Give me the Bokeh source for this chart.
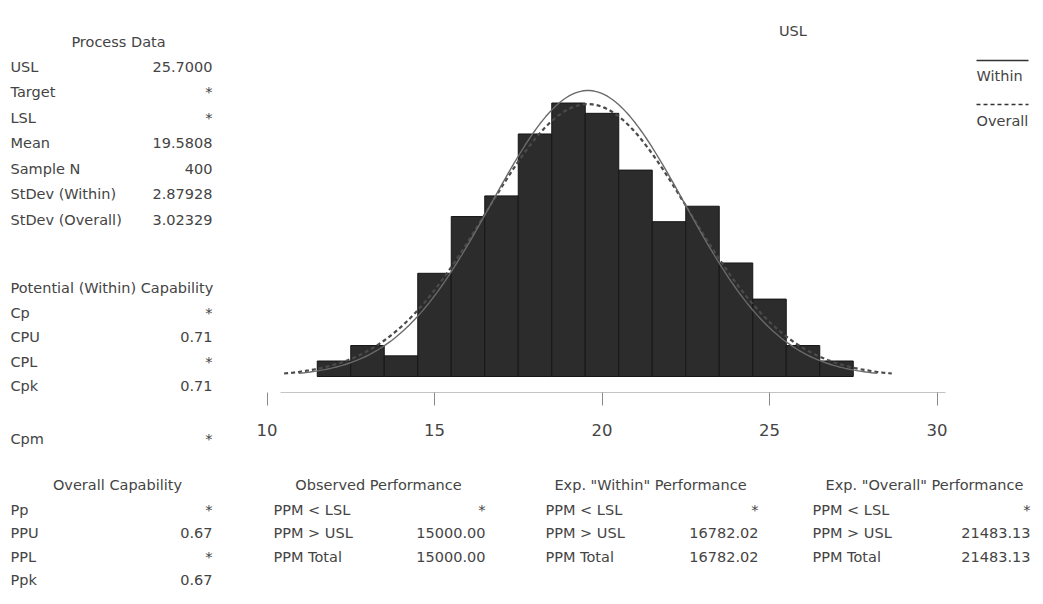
import numpy as np
from bokeh.plotting import figure
from bokeh.models import Range1d, FixedTicker, Label, Arrow, ColumnDataSource
from bokeh.layouts import row, column
from bokeh.embed import file_html
from bokeh.resources import INLINE
from bokeh.core.properties import value

# ---------------- data ----------------
usl = 25.7
mean = 19.5808
sample_n = 400
sd_within = 2.87928
sd_overall = 3.02329
bin_width = 1.0
bin_centers = [12, 13, 14, 15, 16, 17, 18, 19, 20, 21, 22, 23, 24, 25, 26, 27]
counts = [3, 6, 4, 20, 31, 35, 47, 53, 51, 40, 30, 33, 22, 15, 6, 3]
x_ticks = [10, 15, 20, 25, 30]

process_labels = ["USL", "Target", "LSL", "Mean", "Sample N", "StDev (Within)", "StDev (Overall)"]
process_values = ["25.7000", "*", "*", "19.5808", "400", "2.87928", "3.02329"]
within_cap_labels = ["Cp", "CPU", "CPL", "Cpk"]
within_cap_values = ["*", "0.71", "*", "0.71"]
cpm_label, cpm_value = "Cpm", "*"
overall_cap_labels = ["Pp", "PPU", "PPL", "Ppk"]
overall_cap_values = ["*", "0.67", "*", "0.67"]

perf_titles = ["Observed Performance", 'Exp. "Within" Performance', 'Exp. "Overall" Performance']
perf_labels = ["PPM < LSL", "PPM > USL", "PPM Total"]
perf_observed = ["*", "15000.00", "15000.00"]
perf_within = ["*", "16782.02", "16782.02"]
perf_overall = ["*", "21483.13", "21483.13"]

# ---------------- style ----------------
FONT = "DejaVu Sans"
FS = "14.5px"
TXT = "#444444"


def text_fig(w, h):
    f = figure(width=w, height=h, x_range=Range1d(0, w), y_range=Range1d(h, 0),
               output_backend="svg", toolbar_location=None,
               x_axis_location=None, y_axis_location=None,
               min_border=0, min_border_left=0, min_border_right=0,
               min_border_top=0, min_border_bottom=0)
    f.grid.visible = False
    f.outline_line_color = None
    f.background_fill_color = "white"
    f.border_fill_color = "white"
    return f


def put(f, xs, ys, texts, align):
    src = ColumnDataSource(dict(x=list(xs), y=list(ys), t=list(texts)))
    f.text(x="x", y="y", text="t", source=src, text_align=align, text_baseline="middle",
           text_font=value(FONT), text_font_size=value(FS), text_color=TXT)


# ---------------- left panel ----------------
LW, LH = 240, 600
left = text_fig(LW, LH)
lab_x, val_x = 10, 212
put(left, [118], [41], ["Process Data"], "center")
ys = [66 + 25.5 * i for i in range(len(process_labels))]
put(left, [lab_x] * len(ys), ys, process_labels, "left")
put(left, [val_x] * len(ys), ys, process_values, "right")

put(left, [lab_x], [287], ["Potential (Within) Capability"], "left")
ys = [312 + 24.5 * i for i in range(len(within_cap_labels))]
put(left, [lab_x] * len(ys), ys, within_cap_labels, "left")
put(left, [val_x] * len(ys), ys, within_cap_values, "right")
put(left, [lab_x], [438], [cpm_label], "left")
put(left, [val_x], [438], [cpm_value], "right")

ROW0, ROWSTEP = 509, 23.5
put(left, [117], [484], ["Overall Capability"], "center")
ys = [ROW0 + ROWSTEP * i for i in range(len(overall_cap_labels))]
put(left, [lab_x] * len(ys), ys, overall_cap_labels, "left")
put(left, [val_x] * len(ys), ys, overall_cap_values, "right")

# ---------------- histogram panel ----------------
HX = 240                      # left edge of the histogram panel on the page
HW, HH = 800, 445
BOTTOM = 53
FH = HH - BOTTOM
px_per_unit = 33.5
px_per_count = 5.16
x20_px = 601.5 - HX           # frame position of x=20
base_px = 376                 # frame position of count 0 (from top)
x_start = 20 - x20_px / px_per_unit
x_end = x_start + HW / px_per_unit
y_start = -(FH - base_px) / px_per_count
y_end = base_px / px_per_count

hist = figure(width=HW, height=HH, x_range=Range1d(x_start, x_end), y_range=Range1d(y_start, y_end),
              output_backend="svg", toolbar_location=None, y_axis_location=None,
              min_border=0, min_border_left=0, min_border_right=0, min_border_top=0,
              min_border_bottom=BOTTOM)
hist.grid.visible = False
hist.outline_line_color = None

centers = np.array(bin_centers, dtype=float)
hist.quad(left=centers - bin_width / 2, right=centers + bin_width / 2, bottom=0, top=counts,
          fill_color="#2c2c2c", line_color="#161616", line_width=1)

scale = sample_n * bin_width
xw = np.linspace(mean - 3 * sd_within, mean + 3 * sd_within, 200)
yw = scale / (sd_within * np.sqrt(2 * np.pi)) * np.exp(-0.5 * ((xw - mean) / sd_within) ** 2)
xo = np.linspace(mean - 3 * sd_overall, mean + 3 * sd_overall, 200)
yo = scale / (sd_overall * np.sqrt(2 * np.pi)) * np.exp(-0.5 * ((xo - mean) / sd_overall) ** 2)
hist.line(xo, yo, line_color="#4a4a4a", line_width=2.2, line_dash="4 3")
hist.line(xw, yw, line_color="#6a6a6a", line_width=1.4)

ax = hist.xaxis[0]
ax.ticker = FixedTicker(ticks=x_ticks)
ax.bounds = (10.4, 30.25)
ax.axis_line_color = "#c4c4c4"
ax.axis_line_width = 1
ax.major_tick_line_color = "#8a8a8a"
ax.major_tick_in = 0
ax.major_tick_out = 13
ax.minor_tick_line_color = None
ax.major_label_standoff = 18
ax.major_label_text_font = FONT
ax.major_label_text_font_size = "16.5px"
ax.major_label_text_color = TXT

# USL label
hist.add_layout(Label(x=usl, y=FH - 30, x_units="data", y_units="screen", text="USL",
                      text_align="center", text_baseline="middle", text_font=FONT,
                      text_font_size=FS, text_color=TXT))
# legend (line above text)
lx0, lx1 = 976 - HX, 1028 - HX
hist.add_layout(Arrow(end=None, x_start=lx0, y_start=FH - 60, x_end=lx1, y_end=FH - 60,
                      start_units="screen", end_units="screen", line_color="#333333", line_width=1.3))
hist.add_layout(Label(x=lx0, y=FH - 75, x_units="screen", y_units="screen", text="Within",
                      text_align="left", text_baseline="middle", text_font=FONT,
                      text_font_size=FS, text_color=TXT))
hist.add_layout(Arrow(end=None, x_start=lx0, y_start=FH - 104, x_end=lx1, y_end=FH - 104,
                      start_units="screen", end_units="screen", line_color="#333333", line_width=1.5,
                      line_dash="4 3"))
hist.add_layout(Label(x=lx0, y=FH - 120, x_units="screen", y_units="screen", text="Overall",
                      text_align="left", text_baseline="middle", text_font=FONT,
                      text_font_size=FS, text_color=TXT))

# ---------------- bottom tables ----------------
BW, BH = 800, 155
bottom = text_fig(BW, BH)
by = HH
title_cx = [378, 650, 924]
lab_lx = [273, 545, 812]
val_rx = [485, 758, 1030]
for k, vals in enumerate([perf_observed, perf_within, perf_overall]):
    put(bottom, [title_cx[k] - HX], [484 - by], [perf_titles[k]], "center")
    ys = [ROW0 + ROWSTEP * i - by for i in range(len(perf_labels))]
    put(bottom, [lab_lx[k] - HX] * len(ys), ys, perf_labels, "left")
    put(bottom, [val_rx[k] - HX] * len(ys), ys, vals, "right")

layout = row(left, column(hist, bottom, spacing=0), spacing=0)
open("out.html", "w").write(file_html(layout, INLINE))
